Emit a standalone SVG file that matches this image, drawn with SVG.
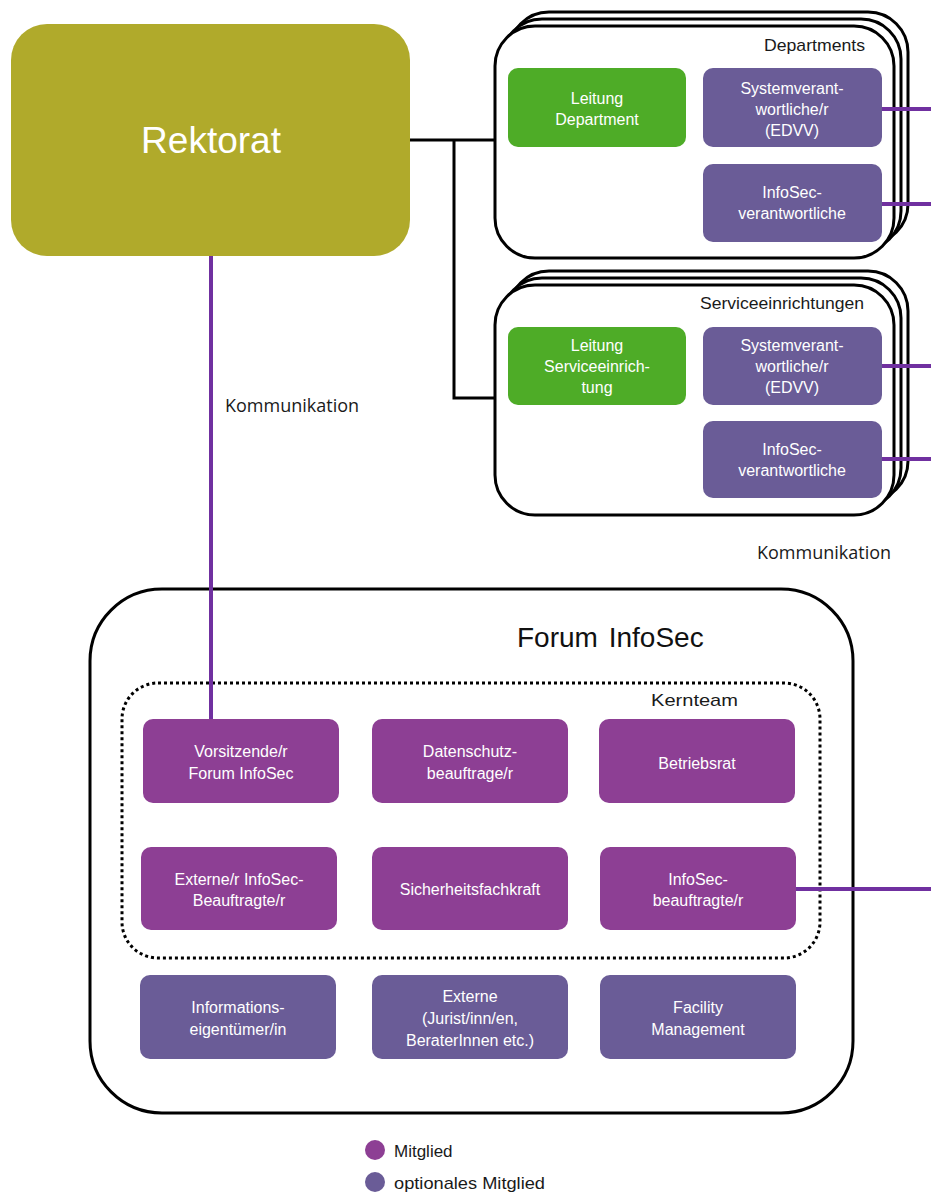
<svg xmlns="http://www.w3.org/2000/svg" width="931" height="1194" viewBox="0 0 931 1194">
<style>
text{font-family:"Liberation Sans",Arial,sans-serif;}
.w{fill:#fff;font-size:16px;text-anchor:middle;}
.lbl{fill:#1a1a1a;font-size:17px;}
.kom{fill:#1a1a1a;font-family:"Open Sans",sans-serif;font-size:18px;}
.frame{fill:#fff;stroke:#000;stroke-width:3;}
.green{fill:#4EAC27;}
.opt{fill:#6A5C97;}
.mem{fill:#8D3F94;}
.blk{fill:none;stroke:#000;stroke-width:3;}
.pur{fill:none;stroke:#7030A0;stroke-width:4;}
</style>

<g id="rektorat">
<rect x="11" y="24" width="399" height="232" rx="36" fill="#B0AA2B"/>
<text x="211" y="153" fill="#fff" font-size="37" text-anchor="middle">Rektorat</text>
</g>

<g id="departments">
<rect class="frame" x="509" y="12" width="399" height="232" rx="40"/>
<rect class="frame" x="502" y="19" width="399" height="232" rx="40"/>
<rect class="frame" x="495" y="26" width="399" height="232" rx="40"/>
<text class="lbl" x="865" y="51" text-anchor="end" textLength="101" lengthAdjust="spacingAndGlyphs">Departments</text>
</g>
<g id="leitung-department">
<rect class="green" x="508" y="68" width="178" height="79" rx="10"/>
<text class="w" x="597" y="104">Leitung</text>
<text class="w" x="597" y="125">Department</text>
</g>
<g id="systemverantwortliche-dep">
<rect class="opt" x="703" y="68" width="179" height="79" rx="10"/>
<text class="w" x="792" y="94">Systemverant-</text>
<text class="w" x="792" y="115">wortliche/r</text>
<text class="w" x="792" y="136">(EDVV)</text>
</g>
<g id="infosecverantwortliche-dep">
<rect class="opt" x="703" y="164" width="179" height="78" rx="10"/>
<text class="w" x="792" y="198">InfoSec-</text>
<text class="w" x="792" y="219">verantwortliche</text>
</g>

<g id="serviceeinrichtungen">
<rect class="frame" x="509" y="271" width="399" height="230" rx="40"/>
<rect class="frame" x="502" y="278" width="399" height="230" rx="40"/>
<rect class="frame" x="495" y="285" width="399" height="230" rx="40"/>
<text class="lbl" x="864" y="309" text-anchor="end" textLength="164" lengthAdjust="spacingAndGlyphs">Serviceeinrichtungen</text>
</g>
<g id="leitung-service">
<rect class="green" x="508" y="327" width="178" height="78" rx="10"/>
<text class="w" x="597" y="351">Leitung</text>
<text class="w" x="597" y="372">Serviceeinrich-</text>
<text class="w" x="597" y="393">tung</text>
</g>
<g id="systemverantwortliche-svc">
<rect class="opt" x="703" y="327" width="179" height="78" rx="10"/>
<text class="w" x="792" y="351">Systemverant-</text>
<text class="w" x="792" y="372">wortliche/r</text>
<text class="w" x="792" y="393">(EDVV)</text>
</g>
<g id="infosecverantwortliche-svc">
<rect class="opt" x="703" y="421" width="179" height="77" rx="10"/>
<text class="w" x="792" y="455">InfoSec-</text>
<text class="w" x="792" y="476">verantwortliche</text>
</g>

<g id="forum">
<rect class="frame" x="90" y="589" width="763" height="524" rx="72"/>
<text x="517" y="647" font-size="28" fill="#111" word-spacing="3">Forum InfoSec</text>
</g>
<g id="kernteam">
<rect x="122" y="683" width="698" height="275" rx="36" fill="none" stroke="#000" stroke-width="3" stroke-dasharray="3 3"/>
<text class="lbl" x="651" y="706" font-size="20" textLength="87" lengthAdjust="spacingAndGlyphs">Kernteam</text>
</g>

<g id="vorsitzende">
<rect class="mem" x="143" y="719" width="196" height="84" rx="10"/>
<text class="w" x="241" y="757">Vorsitzende/r</text>
<text class="w" x="241" y="779">Forum InfoSec</text>
</g>
<g id="datenschutz">
<rect class="mem" x="372" y="719" width="196" height="84" rx="10"/>
<text class="w" x="470" y="757">Datenschutz-</text>
<text class="w" x="470" y="779">beauftrage/r</text>
</g>
<g id="betriebsrat">
<rect class="mem" x="599" y="719" width="196" height="84" rx="10"/>
<text class="w" x="697" y="769">Betriebsrat</text>
</g>
<g id="externe-infosec">
<rect class="mem" x="141" y="847" width="196" height="83" rx="10"/>
<text class="w" x="239" y="885">Externe/r InfoSec-</text>
<text class="w" x="239" y="906">Beauftragte/r</text>
</g>
<g id="sicherheitsfachkraft">
<rect class="mem" x="372" y="847" width="196" height="83" rx="10"/>
<text class="w" x="470" y="895">Sicherheitsfachkraft</text>
</g>
<g id="infosec-beauftragte">
<rect class="mem" x="600" y="847" width="196" height="83" rx="10"/>
<text class="w" x="698" y="885">InfoSec-</text>
<text class="w" x="698" y="906">beauftragte/r</text>
</g>

<g id="informationseigentuemer">
<rect class="opt" x="140" y="975" width="196" height="84" rx="10"/>
<text class="w" x="238" y="1013">Informations-</text>
<text class="w" x="238" y="1035">eigentümer/in</text>
</g>
<g id="externe">
<rect class="opt" x="372" y="975" width="196" height="84" rx="10"/>
<text class="w" x="470" y="1002">Externe</text>
<text class="w" x="470" y="1024">(Jurist/inn/en,</text>
<text class="w" x="470" y="1046">BeraterInnen  etc.)</text>
</g>
<g id="facility">
<rect class="opt" x="600" y="975" width="196" height="84" rx="10"/>
<text class="w" x="698" y="1013">Facility</text>
<text class="w" x="698" y="1035">Management</text>
</g>

<g id="legend">
<circle class="mem" cx="375" cy="1150" r="10"/>
<text class="lbl" x="394" y="1157" font-size="19">Mitglied</text>
<circle class="opt" cx="375" cy="1182" r="10"/>
<text class="lbl" x="394" y="1189" font-size="19" textLength="151" lengthAdjust="spacingAndGlyphs">optionales Mitglied</text>
</g>

<g id="connectors">
<path class="blk" d="M410 140 H495 M454 140 V398 H495"/>
<path class="pur" d="M211 256 V719"/>
<path class="pur" d="M882 109 H931 M882 204 H931 M882 366 H931 M882 459 H931 M796 889 H931"/>
<text class="kom" x="225" y="412">Kommunikation</text>
<text class="kom" x="757" y="559">Kommunikation</text>
</g>
</svg>
